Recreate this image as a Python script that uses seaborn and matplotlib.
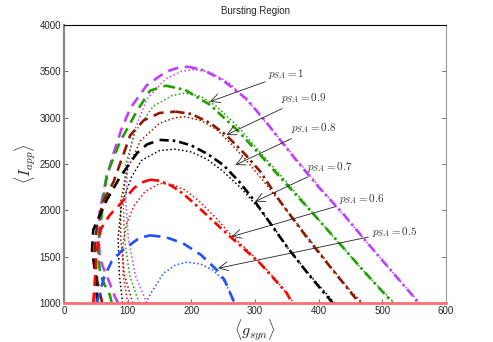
import numpy as np
import pandas as pd
import matplotlib
matplotlib.use("Agg")
import matplotlib.pyplot as plt
import seaborn as sns

# values (data coords)
p_labels = ["1", "0.9", "0.8", "0.7", "0.6", "0.5"]
colors = ["#BF3FFF", "#1F9F00", "#8B1A00", "#000000", "#FF0000", "#1F4FFF"]

# rising (dashed) branch of each curve, from the bottom-left to the peak
rise_x = [
    [85, 80, 67, 61, 56, 55, 56, 65, 77, 90, 104, 130, 160, 180, 195],
    [75, 72, 64, 57, 54, 55, 60, 67, 88, 114, 135, 150, 160],
    [60, 52, 48, 52, 62, 78, 104, 125, 150, 175],
    [52, 50, 44, 46, 67, 88, 115, 130, 150],
    [46, 49, 51, 58, 72, 90, 110, 122, 135],
    [51, 56, 63, 75, 90, 104, 118, 135],
]
rise_y = [
    [1000, 1065, 1300, 1390, 1500, 1650, 1980, 2300, 2600, 2870, 3100, 3350, 3495, 3540, 3550],
    [1000, 1087, 1195, 1302, 1500, 1700, 2000, 2380, 2740, 3065, 3290, 3325, 3345],
    [1000, 1250, 1550, 1850, 2100, 2310, 2810, 2970, 3050, 3065],
    [1000, 1280, 1570, 1790, 2110, 2360, 2620, 2710, 2760],
    [1000, 1300, 1550, 1800, 1950, 2080, 2240, 2300, 2330],
    [1000, 1100, 1280, 1450, 1560, 1630, 1700, 1730],
]
# falling (dash-dot) branch, from the peak down to the bottom-right
fall_x = [
    [195, 220, 250, 287, 320, 360, 400, 440, 480, 520, 549, 556],
    [160, 190, 229, 270, 308, 339, 380, 428, 470, 512, 516],
    [175, 200, 230, 255, 285, 308, 339, 380, 418, 445, 460, 466],
    [150, 175, 200, 225, 250, 275, 300, 325, 350, 385, 418, 422],
    [135, 150, 170, 187, 210, 235, 261, 285, 308, 330, 350, 358],
    [135, 160, 187, 215, 240, 252, 261, 268],
]
fall_y = [
    [3550, 3510, 3400, 3200, 2930, 2580, 2250, 1950, 1620, 1300, 1068, 1000],
    [3345, 3300, 3140, 2880, 2600, 2360, 2050, 1680, 1350, 1033, 1000],
    [3065, 3040, 2940, 2810, 2600, 2420, 2100, 1720, 1390, 1160, 1033, 1000],
    [2760, 2750, 2700, 2610, 2490, 2310, 2094, 1850, 1608, 1300, 1033, 1000],
    [2330, 2320, 2260, 2180, 2040, 1880, 1716, 1570, 1428, 1260, 1105, 1000],
    [1730, 1710, 1644, 1520, 1356, 1250, 1105, 1000],
]
# dotted curves
dot_x = [
    [130, 112, 101, 97, 100, 110, 130, 160, 185, 205, 230, 260, 295, 330, 370, 410, 450, 490, 530, 559],
    [118, 103, 95, 93, 97, 112, 140, 170, 190, 215, 240, 275, 310, 345, 385, 430, 475, 519],
    [108, 95, 89, 89, 100, 120, 150, 175, 190, 215, 240, 265, 290, 315, 345, 385, 420, 450, 469],
    [92, 87, 85, 90, 106, 122, 150, 175, 200, 225, 250, 278, 305, 330, 355, 390, 425],
    [100, 93, 92, 98, 110, 127, 150, 170, 190, 212, 237, 263, 288, 310, 333, 361],
    [128, 138, 156, 175, 193, 215, 235, 250, 260, 266],
]
dot_y = [
    [1000, 1300, 1700, 2100, 2500, 2850, 3200, 3420, 3500, 3520, 3490, 3370, 3130, 2840, 2510, 2180, 1860, 1540, 1220, 1000],
    [1000, 1300, 1700, 2100, 2500, 2850, 3120, 3240, 3265, 3230, 3120, 2890, 2610, 2340, 2020, 1660, 1310, 1000],
    [1000, 1300, 1700, 2100, 2450, 2750, 2940, 3000, 3010, 2970, 2870, 2700, 2510, 2300, 2040, 1690, 1380, 1130, 1000],
    [1000, 1300, 1700, 2050, 2360, 2540, 2645, 2660, 2630, 2550, 2420, 2240, 2030, 1810, 1560, 1270, 1000],
    [1000, 1300, 1600, 1850, 2050, 2200, 2290, 2280, 2220, 2100, 1930, 1730, 1570, 1420, 1250, 1000],
    [1000, 1122, 1320, 1410, 1440, 1420, 1350, 1250, 1130, 1000],
]

# annotation: label position and arrow tip
text_x = [321, 341, 356, 381, 432, 483]
text_y = [3471, 3209, 2885, 2471, 2122, 1770]
tip_x = [229, 255, 269, 300, 263, 242]
tip_y = [3172, 2813, 2489, 2094, 1716, 1375]

plt.rcParams['mathtext.fontset'] = 'cm'
sns.set_style("ticks")
plt.rcParams['font.family'] = ['Liberation Sans', 'DejaVu Sans']

fig = plt.figure(figsize=(4.93, 3.42), dpi=100)
ax = fig.add_axes([0.1298, 0.114, 0.775, 0.813])

for i in range(len(p_labels)):
    c = colors[i]
    rise = pd.DataFrame({"x": rise_x[i], "y": rise_y[i]})
    fall = pd.DataFrame({"x": fall_x[i], "y": fall_y[i]})
    dots = pd.DataFrame({"x": dot_x[i], "y": dot_y[i]})
    sns.lineplot(data=dots, x="x", y="y", sort=False, estimator=None, ax=ax,
                 color=c, lw=1.1, linestyle=(0, (1, 1.6)))
    sns.lineplot(data=rise, x="x", y="y", sort=False, estimator=None, ax=ax,
                 color=c, lw=1.9, linestyle=(0, (4, 2.5)))
    fall_ls = (0, (4, 2.5)) if i == 5 else (0, (3.5, 1.5, 1, 1.5))
    sns.lineplot(data=fall, x="x", y="y", sort=False, estimator=None, ax=ax,
                 color=c, lw=1.9, linestyle=fall_ls)

for i in range(len(p_labels)):
    ax.annotate("$p_{SA} = " + p_labels[i] + "$", xy=(tip_x[i], tip_y[i]),
                xytext=(text_x[i], text_y[i]), fontsize=8, color="#333333",
                va="center", ha="left",
                arrowprops=dict(arrowstyle="->", color="#222222", lw=0.6,
                                mutation_scale=16, shrinkA=0, shrinkB=0))

ax.set_xlim(0, 600)
ax.set_ylim(1000, 4000)
ax.set_xticks(range(0, 601, 100))
ax.set_yticks(range(1000, 4001, 500))
ax.tick_params(direction="in", labelsize=7, length=3, width=0.6,
               top=False, right=True, color="#555555", pad=2)
ax.set_title("Bursting Region", fontsize=7, pad=8)
ax.set_xlabel(r"$\langle g_{syn} \rangle$", fontsize=11.5, labelpad=1)
ax.set_ylabel(r"$\langle I_{app} \rangle$", fontsize=11.5, labelpad=1)

ax.spines["left"].set_color("#888888")
ax.spines["left"].set_linewidth(1.6)
ax.spines["right"].set_color("#999999")
ax.spines["right"].set_linewidth(0.8)
ax.spines["top"].set_color("#000000")
ax.spines["top"].set_linewidth(0.8)
ax.spines["bottom"].set_color("#FF7070")
ax.spines["bottom"].set_linewidth(2.0)
ax.spines["bottom"].set_zorder(5)

fig.savefig("out.png", dpi=100)
